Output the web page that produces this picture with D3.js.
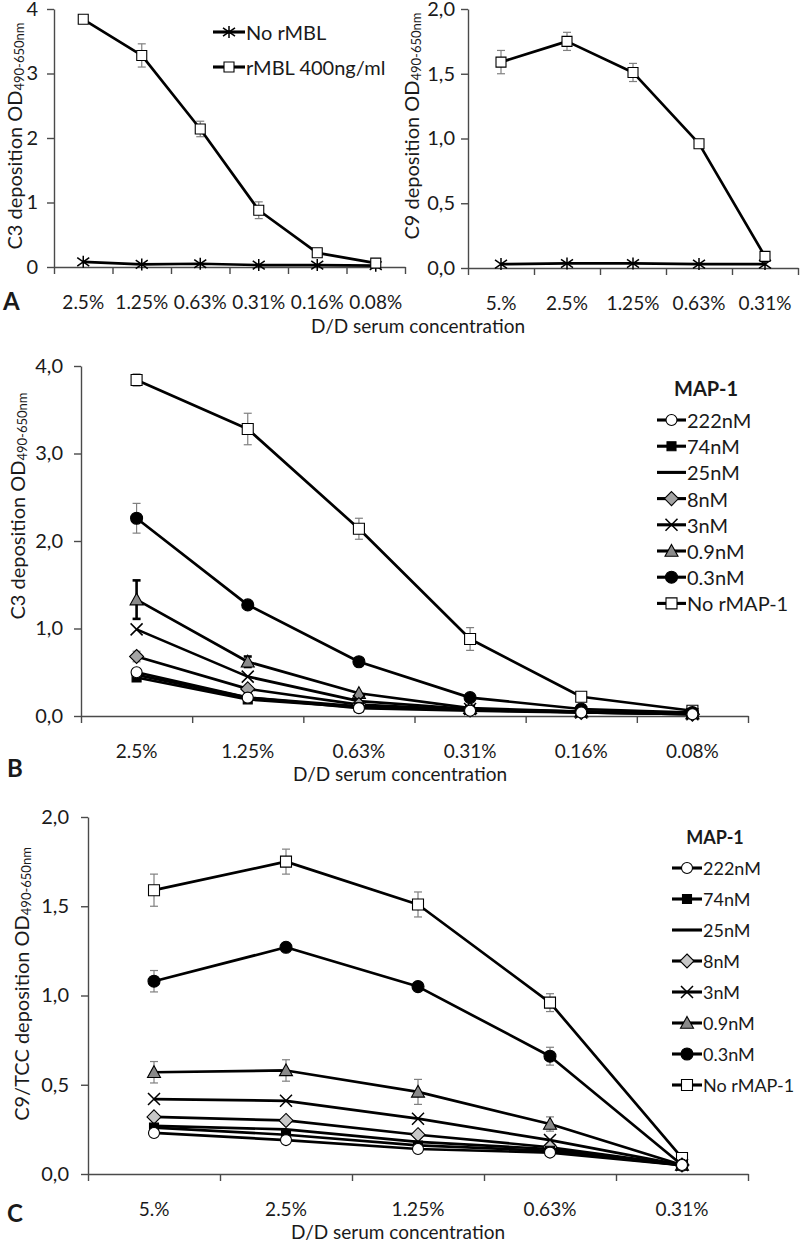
<!DOCTYPE html>
<html>
<head>
<meta charset="utf-8">
<script src="https://cdn.jsdelivr.net/npm/d3@7"></script>
<style>
  body { margin: 0; background: #fff; }
  svg text { font-family: Lato, 'Open Sans', sans-serif; font-size: 19px; fill: #1a1a1a; }
  svg .yaxis text { font-size: 20px; }
</style>
</head>
<body>
<div id="chart"></div>
<script>
const W = 800, H = 1241;

// ---- categories (serum dilutions)
const catsA1 = ['2.5%', '1.25%', '0.63%', '0.31%', '0.16%', '0.08%'];
const catsA2 = ['5.%', '2.5%', '1.25%', '0.63%', '0.31%'];
const catsB = ['2.5%', '1.25%', '0.63%', '0.31%', '0.16%', '0.08%'];
const catsC = ['5.%', '2.5%', '1.25%', '0.63%', '0.31%'];

// ---- panel A, left (C3)
const a1NoMBL = [0.08, 0.04, 0.05, 0.03, 0.03, 0.02];
const a1MBL = [3.84, 3.28, 2.14, 0.88, 0.22, 0.06];
const a1MBLErr = [0.05, 0.18, 0.12, 0.13, 0.03, 0.02];

// ---- panel A, right (C9)
const a2NoMBL = [0.03, 0.035, 0.035, 0.03, 0.03];
const a2MBL = [1.59, 1.75, 1.51, 0.96, 0.09];
const a2MBLErr = [0.09, 0.07, 0.07, 0.03, 0.02];

// ---- panel B (C3 with MAP-1)
const mapNames = ['222nM', '74nM', '25nM', '8nM', '3nM', '0.9nM', '0.3nM', 'No rMAP-1'];
const b222 = [0.50, 0.21, 0.09, 0.06, 0.04, 0.02];
const b74 = [0.44, 0.19, 0.10, 0.07, 0.05, 0.03];
const b25 = [0.47, 0.21, 0.11, 0.07, 0.05, 0.03];
const b8 = [0.68, 0.31, 0.13, 0.07, 0.04, 0.02];
const b3 = [0.99, 0.45, 0.17, 0.08, 0.04, 0.02];
const b09 = [1.33, 0.62, 0.26, 0.09, 0.05, 0.03];
const b03 = [2.26, 1.27, 0.62, 0.21, 0.08, 0.04];
const bNo = [3.84, 3.28, 2.14, 0.88, 0.22, 0.06];
const b8Err = [0.06, 0, 0, 0, 0, 0];
const b09Err = [0.22, 0.06, 0, 0, 0, 0];
const b03Err = [0.17, 0, 0, 0, 0, 0];
const bNoErr = [0.07, 0.18, 0.12, 0.13, 0.03, 0.02];

// ---- panel C (C9/TCC with MAP-1)
const c222 = [0.23, 0.19, 0.14, 0.12, 0.05];
const c74 = [0.26, 0.22, 0.16, 0.13, 0.05];
const c25 = [0.27, 0.25, 0.18, 0.14, 0.05];
const c8 = [0.32, 0.30, 0.22, 0.15, 0.05];
const c3 = [0.42, 0.41, 0.31, 0.19, 0.05];
const c09 = [0.57, 0.58, 0.46, 0.28, 0.05];
const c03 = [1.08, 1.27, 1.05, 0.66, 0.05];
const cNo = [1.59, 1.75, 1.51, 0.96, 0.09];
const c09Err = [0.06, 0.06, 0.07, 0.04, 0];
const c03Err = [0.06, 0, 0, 0.05, 0];
const cNoErr = [0.09, 0.07, 0.07, 0.05, 0.02];

const LINE_W = 2.7;
const AXIS_COLOR = '#4a4a4a';
const ERR_COLOR = '#808080';

const commaFmt = d => d3.format('.1f')(d).replace('.', ',');

// marker shapes, s = half size
const markerPath = (shape, s) => {
  switch (shape) {
    case 'circle': return d3.symbol(d3.symbolCircle, Math.PI * s * s)();
    case 'square': return `M${-s},${-s}H${s}V${s}H${-s}Z`;
    case 'diamond': return `M0,${-s}L${s},0L0,${s}L${-s},0Z`;
    case 'triangle': return `M0,${-s}L${s},${s * 0.8}L${-s},${s * 0.8}Z`;
    case 'x': return `M${-s},${-s}L${s},${s}M${-s},${s}L${s},${-s}`;
    case 'asterisk': return `M${-s},${-s * 0.7}L${s},${s * 0.7}M${-s},${s * 0.7}L${s},${-s * 0.7}M0,${-s}V${s}`;
    default: return null;
  }
};
const strokeOnly = shape => shape === 'x' || shape === 'asterisk';

const mapStyles = (diamondFill) => ({
  '222nM': { shape: 'circle', s: 5.5, fill: '#fff' },
  '74nM': { shape: 'square', s: 4.5, fill: '#000' },
  '25nM': { shape: null },
  '8nM': { shape: 'diamond', s: 7, fill: diamondFill },
  '3nM': { shape: 'x', s: 6 },
  '0.9nM': { shape: 'triangle', s: 6.5, fill: '#8a8a8a' },
  '0.3nM': { shape: 'circle', s: 6, fill: '#000' },
  'No rMAP-1': { shape: 'square', s: 5.5, fill: '#fff' },
});

const svg = d3.select('#chart').append('svg')
  .attr('width', W)
  .attr('height', H);

const drawMarker = (g, st, x, y) => {
  if (!st.shape) return;
  g.append('path')
    .attr('d', markerPath(st.shape, st.s))
    .attr('transform', `translate(${x},${y})`)
    .attr('fill', strokeOnly(st.shape) ? 'none' : st.fill)
    .attr('stroke', '#000')
    .attr('stroke-width', strokeOnly(st.shape) ? 1.5 : 1.1);
};

const drawPanel = (p) => {
  const n = p.cats.length;
  const y = d3.scaleLinear().domain([0, p.yMax]).range([p.y0, p.yTop]);
  const xEdge = d3.scaleLinear().domain([0, n]).range([p.x0, p.x1]);
  const xCat = d3.scaleBand().domain(p.cats).range([p.x0, p.x1]);
  const cx = i => xCat(p.cats[i]) + xCat.bandwidth() / 2;

  const g = svg.append('g');

  // y axis
  g.append('g')
    .classed('yaxis', true)
    .attr('transform', `translate(${p.x0},0)`)
    .style('color', AXIS_COLOR)
    .call(d3.axisLeft(y).tickValues(p.yTicks).tickFormat(p.fmt)
      .tickSize(7).tickSizeOuter(0).tickPadding(p.pad))
    .call(a => a.selectAll('path,line').attr('stroke-width', 1.4));

  // x axis, ticks on category boundaries
  g.append('g')
    .attr('transform', `translate(0,${p.y0})`)
    .style('color', AXIS_COLOR)
    .call(d3.axisBottom(xEdge).tickValues(d3.range(n + 1)).tickFormat('')
      .tickSize(7).tickSizeOuter(0))
    .call(a => a.selectAll('path,line').attr('stroke-width', 1.4));

  g.selectAll('.xlab')
    .data(p.cats)
    .join('text')
    .attr('x', (d, i) => cx(i))
    .attr('y', p.y0 + 34)
    .attr('text-anchor', 'middle')
    .attr('dominant-baseline', 'central')
    .text(d => d);

  if (p.xTitle) {
    g.append('text')
      .attr('x', p.xTitle[0]).attr('y', p.xTitle[1])
      .attr('text-anchor', 'middle')
      .attr('dominant-baseline', 'central')
      .text('D/D serum concentration');
  }

  // y title with subscript
  const yt = g.append('text')
    .attr('transform', `translate(${p.yTitleX},${p.yTitleY}) rotate(-90)`)
    .attr('text-anchor', 'middle')
    .attr('dominant-baseline', 'central')
    .style('font-size', '20px');
  yt.append('tspan').text(p.yTitle);
  yt.append('tspan').attr('dy', 5).style('font-size', '13px').text('490-650nm');

  if (p.letter) {
    g.append('text')
      .attr('x', p.letter[1]).attr('y', p.letter[2])
      .attr('dominant-baseline', 'central')
      .style('font-size', '24px').style('font-weight', 'bold')
      .text(p.letter[0]);
  }

  const line = d3.line().x((d, i) => cx(i)).y(d => y(d));

  p.series.forEach(s => {
    // error bars behind the markers
    if (s.err) {
      s.values.forEach((v, i) => {
        const e = s.err[i];
        if (!e) return;
        const bold = s.boldErr;
        const eg = g.append('g')
          .attr('stroke', bold ? '#000' : ERR_COLOR)
          .attr('stroke-width', bold ? 2.6 : 1.2);
        eg.append('line').attr('x1', cx(i)).attr('x2', cx(i))
          .attr('y1', y(v - e)).attr('y2', y(v + e));
        [v - e, v + e].forEach(t => eg.append('line')
          .attr('x1', cx(i) - 4).attr('x2', cx(i) + 4)
          .attr('y1', y(t)).attr('y2', y(t)));
      });
    }
    g.append('path')
      .datum(s.values)
      .attr('d', line)
      .attr('fill', 'none')
      .attr('stroke', '#000')
      .attr('stroke-width', LINE_W)
      .attr('stroke-linejoin', 'round');
    s.values.forEach((v, i) => drawMarker(g, s.style, cx(i), y(v)));
  });

  // legend
  if (p.legend) {
    const L = p.legend;
    const lg = g.append('g').classed('legend', true);
    if (L.title) {
      lg.append('text')
        .attr('x', L.titleX).attr('y', L.titleY)
        .attr('text-anchor', 'middle')
        .attr('dominant-baseline', 'central')
        .style('font-weight', 'bold')
        .style('font-size', L.fontSize + 'px')
        .text(L.title);
    }
    L.items.forEach((it, k) => {
      const ly = L.y0 + k * L.dy;
      lg.append('line')
        .attr('x1', L.x0).attr('x2', L.x1)
        .attr('y1', ly).attr('y2', ly)
        .attr('stroke', '#000').attr('stroke-width', LINE_W + 0.4);
      drawMarker(lg, it.style, (L.x0 + L.x1) / 2, ly);
      lg.append('text')
        .attr('x', L.x1 + 1).attr('y', ly)
        .attr('dominant-baseline', 'central')
        .style('font-size', L.fontSize + 'px')
        .text(it.name);
    });
  }
};

// ---- panel A left
const noMBLStyle = { shape: 'asterisk', s: 6 };
const mblStyle = { shape: 'square', s: 5, fill: '#fff' };

drawPanel({
  cats: catsA1, yMax: 4, yTicks: [0, 1, 2, 3, 4], fmt: d3.format('d'), pad: 9,
  x0: 54, x1: 405, y0: 267, yTop: 9,
  yTitle: 'C3 deposition OD', yTitleX: 14, yTitleY: 136,
  letter: ['A', 3, 300],
  xTitle: [418, 325],
  series: [
    { values: a1NoMBL, style: noMBLStyle },
    { values: a1MBL, err: a1MBLErr, style: mblStyle },
  ],
  legend: {
    x0: 213, x1: 245, y0: 32, dy: 35, fontSize: 20,
    items: [
      { name: 'No rMBL', style: noMBLStyle },
      { name: 'rMBL 400ng/ml', style: mblStyle },
    ],
  },
});

// ---- panel A right
drawPanel({
  cats: catsA2, yMax: 2, yTicks: [0, 0.5, 1, 1.5, 2], fmt: commaFmt, pad: 6,
  x0: 468, x1: 798, y0: 268, yTop: 9,
  yTitle: 'C9 deposition OD', yTitleX: 411, yTitleY: 126,
  series: [
    { values: a2NoMBL, style: noMBLStyle },
    { values: a2MBL, err: a2MBLErr, style: mblStyle },
  ],
});

// ---- panel B
const stylesB = mapStyles('#a3a3a3');
const valsB = [b222, b74, b25, b8, b3, b09, b03, bNo];
const errB = { '8nM': b8Err, '0.9nM': b09Err, '0.3nM': b03Err, 'No rMAP-1': bNoErr };

drawPanel({
  cats: catsB, yMax: 4, yTicks: [0, 1, 2, 3, 4], fmt: commaFmt, pad: 11,
  x0: 81, x1: 748, y0: 716, yTop: 366,
  yTitle: 'C3 deposition OD', yTitleX: 17, yTitleY: 506,
  letter: ['B', 7, 767],
  xTitle: [400, 773],
  series: mapNames.map((nm, k) => ({
    values: valsB[k], err: errB[nm], style: stylesB[nm], boldErr: nm === '0.9nM',
  })).reverse(),
  legend: {
    title: 'MAP-1', titleX: 706, titleY: 388, fontSize: 20,
    x0: 657, x1: 686, y0: 420, dy: 26.2,
    items: mapNames.map(nm => ({ name: nm, style: stylesB[nm] })),
  },
});

// ---- panel C
const stylesC = mapStyles('#c8c8c8');
const valsC = [c222, c74, c25, c8, c3, c09, c03, cNo];
const errC = { '0.9nM': c09Err, '0.3nM': c03Err, 'No rMAP-1': cNoErr };

drawPanel({
  cats: catsC, yMax: 2, yTicks: [0, 0.5, 1, 1.5, 2], fmt: commaFmt, pad: 12,
  x0: 88, x1: 748, y0: 1174, yTop: 817,
  yTitle: 'C9/TCC deposition OD', yTitleX: 21, yTitleY: 984,
  letter: ['C', 7, 1212],
  xTitle: [398, 1231],
  series: mapNames.map((nm, k) => ({
    values: valsC[k], err: errC[nm], style: stylesC[nm],
  })).reverse(),
  legend: {
    title: 'MAP-1', titleX: 715, titleY: 837, fontSize: 18,
    x0: 672, x1: 702, y0: 868, dy: 31,
    items: mapNames.map(nm => ({ name: nm, style: stylesC[nm] })),
  },
});
</script>
</body>
</html>
